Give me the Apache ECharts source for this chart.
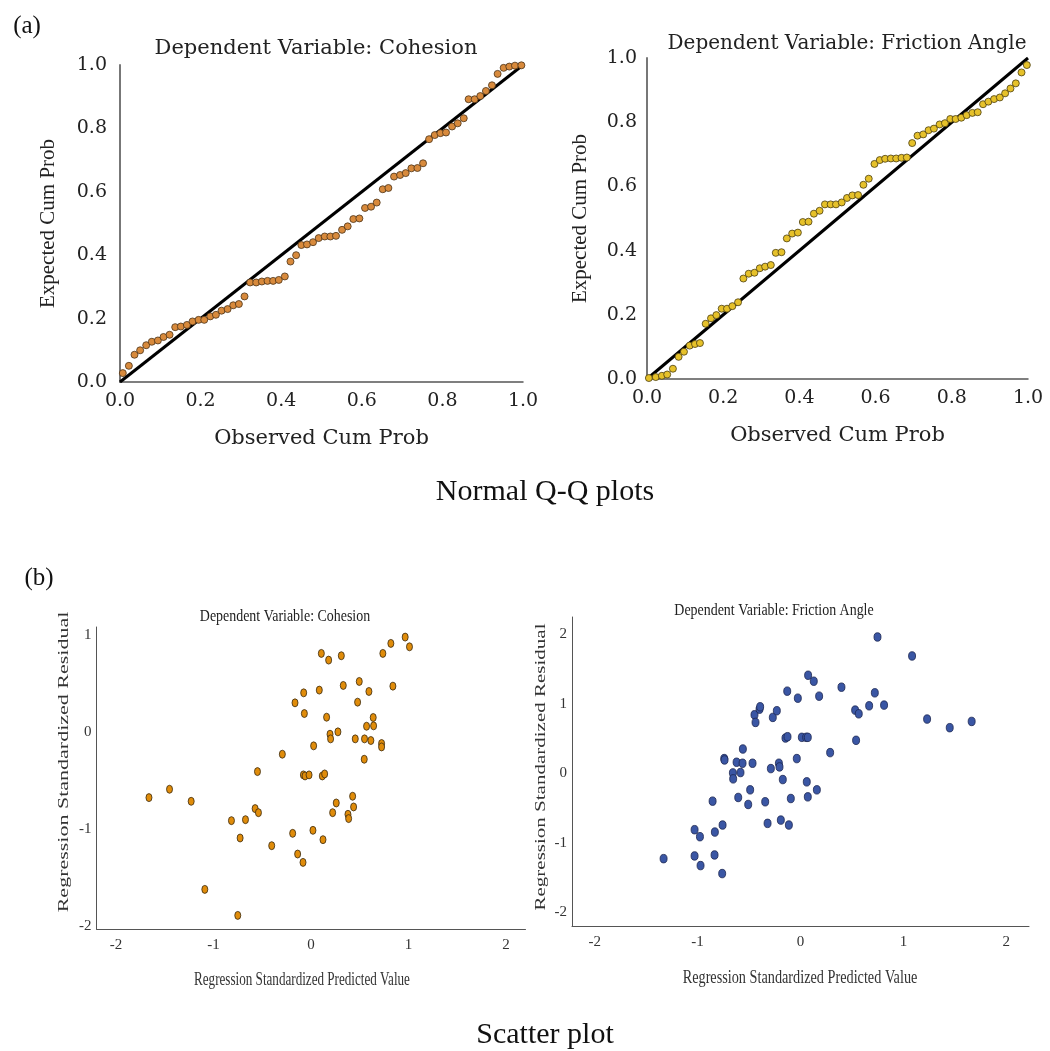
<!DOCTYPE html>
<html>
<head>
<meta charset="utf-8">
<script src="https://cdn.jsdelivr.net/npm/echarts@6/dist/echarts.min.js"></script>
<style>
  html, body { margin: 0; padding: 0; background: #fff; }
  #chart { width: 1050px; height: 1051px; }
</style>
</head>
<body>
<div id="chart"></div>
<script>
// (a) Normal Q-Q plots
const qqCohObs = [0.007,0.022,0.036,0.050,0.065,0.079,0.094,0.108,0.123,0.137,0.151,0.166,0.180,0.195,0.209,0.224,0.238,0.252,0.267,0.281,0.295,0.309,0.323,0.338,0.352,0.366,0.380,0.394,0.409,0.423,0.437,0.450,0.464,0.479,0.493,0.508,0.522,0.536,0.551,0.565,0.579,0.594,0.608,0.623,0.637,0.652,0.666,0.680,0.695,0.709,0.723,0.738,0.752,0.767,0.781,0.795,0.809,0.824,0.838,0.853,0.865,0.880,0.894,0.908,0.923,0.937,0.952,0.966,0.980,0.996]
const qqCohExp = [0.028,0.051,0.086,0.100,0.116,0.127,0.131,0.142,0.149,0.173,0.175,0.180,0.191,0.196,0.196,0.207,0.212,0.225,0.230,0.242,0.246,0.270,0.314,0.314,0.317,0.319,0.319,0.322,0.333,0.380,0.400,0.432,0.434,0.441,0.454,0.459,0.459,0.461,0.480,0.491,0.514,0.516,0.549,0.553,0.566,0.608,0.612,0.648,0.653,0.659,0.674,0.675,0.690,0.766,0.779,0.785,0.787,0.806,0.816,0.832,0.892,0.892,0.902,0.918,0.936,0.972,0.991,0.995,0.998,0.999]
const qqFricObs = [0.005,0.023,0.039,0.053,0.068,0.083,0.097,0.112,0.126,0.139,0.154,0.168,0.182,0.196,0.210,0.224,0.239,0.253,0.267,0.282,0.296,0.310,0.325,0.338,0.353,0.367,0.381,0.396,0.409,0.424,0.438,0.453,0.467,0.482,0.496,0.511,0.525,0.539,0.554,0.568,0.582,0.597,0.611,0.625,0.640,0.654,0.668,0.682,0.696,0.710,0.725,0.739,0.753,0.768,0.782,0.796,0.810,0.825,0.839,0.854,0.868,0.882,0.896,0.911,0.926,0.940,0.954,0.968,0.983,0.997]
const qqFricExp = [0.003,0.006,0.010,0.014,0.032,0.069,0.085,0.104,0.109,0.112,0.172,0.189,0.199,0.219,0.219,0.227,0.239,0.313,0.328,0.331,0.345,0.350,0.355,0.393,0.395,0.438,0.453,0.456,0.489,0.490,0.515,0.524,0.544,0.544,0.544,0.550,0.564,0.572,0.573,0.605,0.624,0.670,0.682,0.686,0.687,0.687,0.689,0.690,0.735,0.758,0.762,0.775,0.780,0.793,0.797,0.810,0.810,0.814,0.822,0.829,0.831,0.856,0.864,0.872,0.877,0.890,0.905,0.921,0.955,0.978]
const refLine = [[0, 0], [1, 1]]
const qqTicks = [0, 0.2, 0.4, 0.6, 0.8, 1.0]

// (b) scatter plots
const scCohPred = [-1.662,-1.451,-1.229,-1.089,-0.816,-0.727,-0.751,-0.672,-0.573,-0.539,-0.549,-0.403,-0.294,-0.188,-0.164,-0.137,-0.082,-0.075,-0.068,-0.078,-0.061,-0.020,0.020,0.027,0.085,0.106,0.116,0.123,0.140,0.160,0.181,0.195,0.201,0.222,0.259,0.276,0.311,0.331,0.379,0.386,0.427,0.437,0.454,0.478,0.495,0.546,0.549,0.570,0.594,0.614,0.638,0.642,0.724,0.724,0.737,0.819,0.840,0.966,1.010]
const scCohRes = [-0.677,-0.591,-0.715,-1.622,-0.914,-1.093,-1.890,-0.904,-0.790,-0.832,-0.409,-1.172,-0.230,-1.045,0.299,-1.258,-1.344,0.402,0.189,-0.443,-0.454,-0.443,-1.014,-0.144,0.430,0.808,-0.454,-1.110,-0.433,0.151,0.739,-0.024,-0.072,-0.832,-0.732,0.000,0.784,0.478,-0.849,-0.893,-0.663,-0.773,-0.072,0.306,0.519,-0.282,-0.072,0.058,0.416,-0.089,0.148,0.062,-0.120,-0.155,0.808,0.911,0.471,0.976,0.876]
const scFricPred = [-1.330,-1.029,-1.029,-0.977,-0.971,-0.854,-0.835,-0.832,-0.757,-0.761,-0.741,-0.738,-0.657,-0.654,-0.621,-0.605,-0.583,-0.563,-0.560,-0.508,-0.489,-0.466,-0.447,-0.437,-0.398,-0.392,-0.343,-0.320,-0.288,-0.269,-0.230,-0.210,-0.204,-0.191,-0.172,-0.146,-0.129,-0.126,-0.113,-0.094,-0.036,-0.026,0.013,0.055,0.071,0.061,0.071,0.074,0.129,0.159,0.181,0.288,0.398,0.531,0.540,0.566,0.667,0.722,0.748,0.812,1.084,1.230,1.450,1.663]
const scFricRes = [-1.230,-0.813,-1.191,-0.914,-1.330,-0.402,-1.177,-0.847,-0.746,-1.445,0.211,0.191,0.005,-0.081,0.158,-0.349,0.010,0.144,0.349,-0.450,-0.239,0.144,0.842,0.732,0.923,0.957,-0.411,-0.722,0.067,0.804,0.900,0.144,0.091,-0.675,-0.091,0.507,1.182,0.526,-0.746,-0.364,0.211,1.081,0.517,0.517,0.517,-0.124,-0.340,1.411,1.325,-0.239,1.110,0.297,1.239,0.909,0.474,0.856,0.971,1.158,1.962,0.981,1.689,0.780,0.656,0.746]
const scXTicks = [-2, -1, 0, 1, 2]
const scCohYTicks = [-2, -1, 0, 1]
const scFricYTicks = [-2, -1, 0, 1, 2]

const pairs = (xs, ys) => xs.map((x, i) => [x, ys[i]])

const wide = 'DejaVu Serif'
const serif = 'Liberation Serif'

const qqX = (idx) => ({
  gridIndex: idx, type: 'value', min: 0, max: 1, interval: 0.2,
  name: 'Observed Cum Prob', nameLocation: 'middle', nameGap: 46,
  nameTextStyle: { fontFamily: wide, fontSize: 21, color: '#222' },
  axisLine: { onZero: false, lineStyle: { color: '#555', width: 1.5 } },
  axisTick: { show: false }, splitLine: { show: false },
  axisLabel: { fontFamily: wide, fontSize: 19, color: '#222', margin: 10, formatter: v => v.toFixed(1) }
})
const qqY = (idx, gap, margin) => ({
  gridIndex: idx, type: 'value', min: 0, max: 1, interval: 0.2,
  name: 'Expected Cum Prob', nameLocation: 'middle', nameGap: gap,
  nameTextStyle: { fontFamily: serif, fontSize: 21, color: '#222' },
  axisLine: { onZero: false, lineStyle: { color: '#777', width: 2 } },
  axisTick: { show: false }, splitLine: { show: false },
  axisLabel: { fontFamily: wide, fontSize: 19, color: '#222', margin: margin, formatter: v => v.toFixed(1) }
})
const scAxis = (idx, min, max, ticks, margin) => ({
  gridIndex: idx, type: 'value', min: min, max: max,
  axisLine: { onZero: false, lineStyle: { color: '#555', width: 1 } },
  axisTick: { show: false }, splitLine: { show: false },
  axisLabel: { customValues: ticks, fontFamily: serif, fontSize: 15, color: '#333', margin: margin }
})

const chart = echarts.init(document.getElementById('chart'))

const option = {
  animation: false,
  backgroundColor: '#fff',
  title: [
    { text: 'Dependent Variable: Cohesion', left: 311, top: 33, textAlign: 'center',
      textStyle: { fontFamily: wide, fontSize: 21, fontWeight: 'normal', color: '#222' } },
    { text: 'Dependent Variable: Friction Angle', left: 842, top: 29, textAlign: 'center',
      textStyle: { fontFamily: wide, fontSize: 20, fontWeight: 'normal', color: '#222' } }
  ],
  grid: [
    { left: 120, top: 65, width: 403, height: 317 },
    { left: 647, top: 58, width: 381, height: 321 },
    { left: 96.5, top: 627, width: 429, height: 302 },
    { left: 572, top: 617, width: 457, height: 309 }
  ],
  xAxis: [
    qqX(0),
    qqX(1),
    scAxis(2, -2.2, 2.2, scXTicks, 9),
    scAxis(3, -2.22, 2.22, scXTicks, 9)
  ],
  yAxis: [
    qqY(0, 61, 13),
    qqY(1, 56, 10),
    scAxis(2, -2.03, 1.08, scCohYTicks, 5),
    scAxis(3, -2.2, 2.25, scFricYTicks, 5)
  ],
  series: [
    { type: 'line', xAxisIndex: 0, yAxisIndex: 0, data: refLine, symbol: 'none', z: 1,
      lineStyle: { color: '#000', width: 3 } },
    { type: 'scatter', xAxisIndex: 0, yAxisIndex: 0, data: pairs(qqCohObs, qqCohExp), symbolSize: 7, z: 2,
      itemStyle: { color: '#d88a3c', borderColor: '#4a3218', borderWidth: 0.8, opacity: 1 } },
    { type: 'line', xAxisIndex: 1, yAxisIndex: 1, data: refLine, symbol: 'none', z: 1,
      lineStyle: { color: '#000', width: 3 } },
    { type: 'scatter', xAxisIndex: 1, yAxisIndex: 1, data: pairs(qqFricObs, qqFricExp), symbolSize: 7, z: 2,
      itemStyle: { color: '#e6c12a', borderColor: '#4a3e10', borderWidth: 0.8, opacity: 1 } },
    { type: 'scatter', xAxisIndex: 2, yAxisIndex: 2, data: pairs(scCohPred, scCohRes), symbolSize: [6, 8],
      itemStyle: { color: '#e08c0a', borderColor: '#3a2a10', borderWidth: 0.8, opacity: 1 } },
    { type: 'scatter', xAxisIndex: 3, yAxisIndex: 3, data: pairs(scFricPred, scFricRes), symbolSize: [7, 8.5],
      itemStyle: { color: '#3a56a4', borderColor: '#1c2550', borderWidth: 0.8, opacity: 1 } }
  ],
  graphic: [
    { type: 'text', x: 27, y: 26, style: { text: '(a)', font: '25px "Liberation Serif"', fill: '#111', textAlign: 'center', textVerticalAlign: 'middle' } },
    { type: 'text', x: 39, y: 578, style: { text: '(b)', font: '25px "Liberation Serif"', fill: '#111', textAlign: 'center', textVerticalAlign: 'middle' } },
    { type: 'text', x: 545, y: 492, style: { text: 'Normal Q-Q plots', font: '30px "Liberation Serif"', fill: '#111', textAlign: 'center', textVerticalAlign: 'middle' } },
    { type: 'text', x: 545, y: 1035, style: { text: 'Scatter plot', font: '30px "Liberation Serif"', fill: '#111', textAlign: 'center', textVerticalAlign: 'middle' } },
    // condensed labels of the scatter plots
    { type: 'text', x: 285, y: 617, scaleX: 0.82, style: { text: 'Dependent Variable: Cohesion', font: '17px "Liberation Serif"', fill: '#222', textAlign: 'center', textVerticalAlign: 'middle' } },
    { type: 'text', x: 774, y: 611, scaleX: 0.82, style: { text: 'Dependent Variable: Friction Angle', font: '17px "Liberation Serif"', fill: '#222', textAlign: 'center', textVerticalAlign: 'middle' } },
    { type: 'text', x: 302, y: 980, scaleX: 0.69, style: { text: 'Regression Standardized Predicted Value', font: '19px "Liberation Serif"', fill: '#333', textAlign: 'center', textVerticalAlign: 'middle' } },
    { type: 'text', x: 800, y: 978, scaleX: 0.75, style: { text: 'Regression Standardized Predicted Value', font: '19px "Liberation Serif"', fill: '#333', textAlign: 'center', textVerticalAlign: 'middle' } },
    { type: 'text', x: 64, y: 762, rotation: Math.PI / 2, scaleY: 0.7, style: { text: 'Regression Standardized Residual', font: '22px "Liberation Serif"', fill: '#333', textAlign: 'center', textVerticalAlign: 'middle' } },
    { type: 'text', x: 541, y: 767, rotation: Math.PI / 2, scaleY: 0.7, style: { text: 'Regression Standardized Residual', font: '21px "Liberation Serif"', fill: '#333', textAlign: 'center', textVerticalAlign: 'middle' } }
  ]
}

chart.setOption(option)
window.addEventListener('resize', () => chart.resize())
</script>
</body>
</html>
